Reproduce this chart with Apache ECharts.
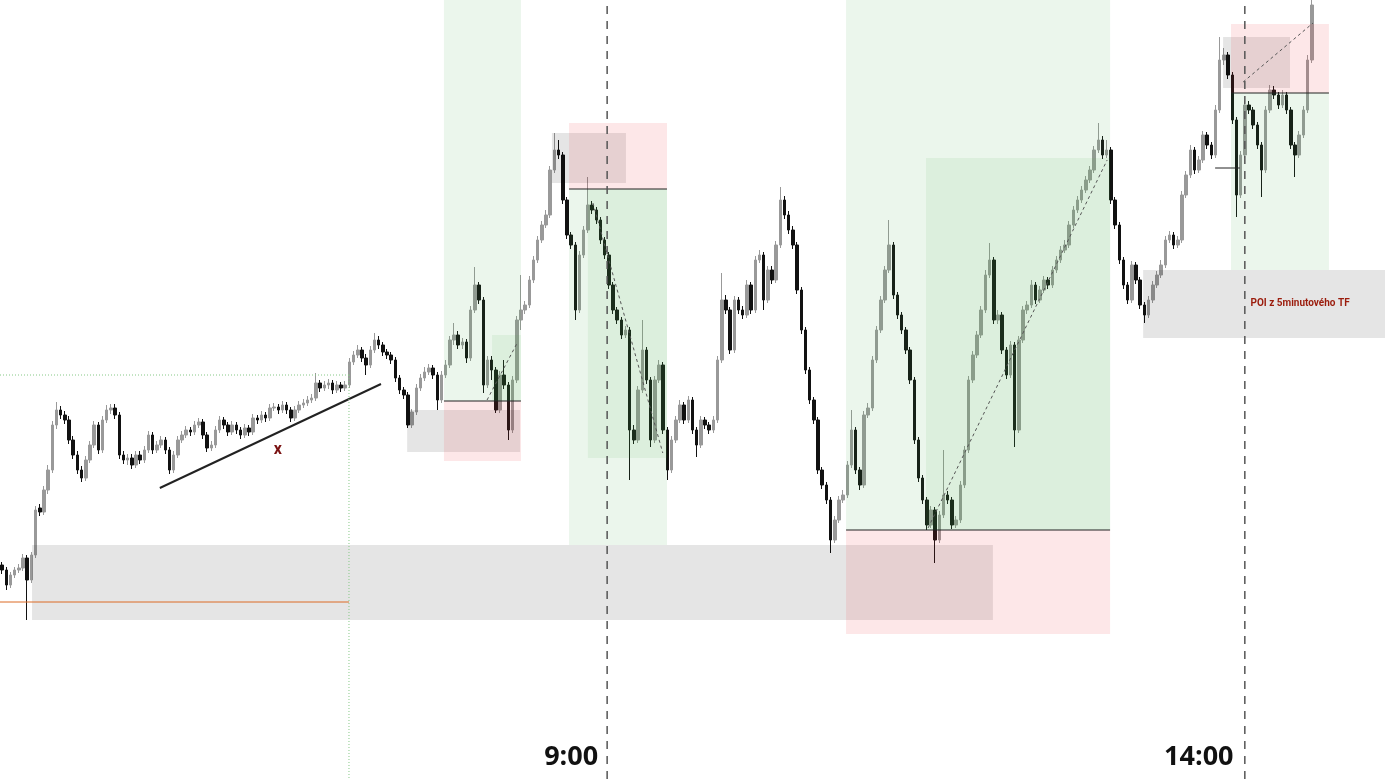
<!DOCTYPE html>
<html>
<head>
<meta charset="utf-8">
<script src="https://cdn.jsdelivr.net/npm/echarts@6/dist/echarts.min.js"></script>
<style>html,body{margin:0;padding:0;background:#fff}#c{width:1385px;height:779px}</style>
</head>
<body>
<div id="c"></div>
<script>
// ---- DATA (prices in chart points) ----
const startMinutes = 4 * 60 + 28;   // first 2-minute candle 04:28
const barMinutes = 2;
const slotCount = 331;
const tickLabels = ['9:00', '14:00'];
// [open, close, low, high]
const candles = [
[235,230,226,238],[230,215,210,233],[215,225,212,228],[225,230,222,233],[230,232,227,236],
[232,242,229,246],[242,220,180,245],[220,245,217,248],[245,290,242,294],[292,288,284,296],
[288,310,285,314],[310,330,306,335],[330,375,327,379],[375,390,371,398],[390,385,381,394],
[385,380,376,389],[380,360,356,384],[360,345,341,364],[345,330,326,349],[330,322,318,334],
[322,340,319,344],[340,355,337,359],[355,375,352,379],[375,350,346,378],[350,380,347,384],
[380,390,377,395],[390,392,386,396],[392,385,381,396],[385,345,341,388],[345,340,336,349],
[340,342,335,346],[342,335,331,346],[335,345,332,349],[345,340,336,349],[340,350,337,354],
[350,365,347,369],[365,350,346,368],[350,355,347,359],[355,360,352,364],[360,350,346,363],
[350,330,326,353],[330,345,327,349],[345,360,342,364],[360,365,357,369],[365,370,362,374],
[370,368,364,373],[368,375,365,379],[375,378,372,382],[378,365,361,381],[365,352,348,368],
[352,355,349,359],[355,370,352,374],[370,380,367,384],[380,375,371,383],[375,368,364,378],
[368,375,365,379],[375,370,366,378],[370,365,361,373],[365,372,362,376],[372,368,364,375],
[368,382,365,386],[382,380,376,385],[380,385,377,389],[385,382,378,388],[382,392,379,396],
[392,393,389,397],[393,390,386,396],[390,395,387,399],[395,390,386,398],[390,382,378,393],
[382,390,379,394],[390,395,387,399],[395,397,392,401],[397,400,394,404],[400,402,397,406],
[402,417,399,427],[417,412,408,420],[412,415,409,419],[415,417,411,421],[417,410,406,420],
[410,415,407,419],[415,412,408,418],[412,415,409,419],[415,438,412,442],[438,445,435,449],
[445,450,442,455],[450,442,438,453],[442,435,425,446],[435,450,432,454],[450,460,447,467],
[460,455,451,464],[455,448,444,458],[448,445,441,451],[445,440,436,448],[440,422,418,443],
[422,410,406,425],[410,405,401,413],[405,375,372,408],[375,388,372,391],[388,412,385,416],
[412,422,409,426],[422,428,419,433],[428,432,425,436],[432,425,421,435],[425,400,390,428],
[400,425,397,429],[425,435,422,440],[435,460,432,464],[460,465,455,477],[465,455,451,469],
[455,458,451,462],[458,442,437,461],[442,490,439,494],[490,515,487,533],[515,500,496,518],
[500,415,407,503],[415,440,412,444],[440,430,420,444],[430,390,387,433],[390,425,387,429],
[425,415,411,440],[415,370,360,418],[370,420,367,424],[420,480,417,484],[480,490,470,525],
[490,495,486,499],[495,520,492,524],[520,540,517,544],[540,560,537,564],[560,575,557,579],
[575,585,572,590],[585,630,582,634],[630,650,627,667],[650,645,641,660],[645,600,596,648],
[600,565,561,603],[565,555,551,568],[555,490,480,558],[490,545,487,549],[545,570,542,574],
[570,595,567,623],[595,590,586,599],[590,580,576,593],[580,560,556,583],[560,545,541,563],
[545,515,511,548],[515,490,486,518],[490,480,476,493],[480,465,461,483],[465,470,462,474],
[470,370,320,473],[370,360,356,375],[360,410,357,414],[410,450,407,480],[450,420,416,453],
[420,360,353,423],[360,420,357,424],[420,435,417,440],[435,370,366,438],[370,330,320,373],
[330,360,327,364],[360,380,357,384],[380,395,377,400],[395,380,376,398],[380,400,377,404],
[400,370,366,403],[370,355,343,373],[355,380,352,384],[380,375,371,383],[375,370,366,378],
[370,380,367,384],[380,440,377,444],[440,500,437,527],[500,490,486,505],[490,450,446,493],
[450,500,447,504],[500,490,486,503],[490,485,481,494],[485,515,482,520],[515,490,486,518],
[490,540,487,544],[540,545,537,550],[545,500,490,548],[500,530,497,534],[530,520,516,534],
[520,555,517,559],[555,600,552,613],[600,585,581,604],[585,570,566,589],[570,555,551,574],
[555,510,506,558],[510,470,466,513],[470,430,426,473],[430,400,396,433],[400,380,376,403],
[380,330,326,383],[330,315,311,333],[315,300,296,318],[300,260,247,303],[260,280,257,284],
[280,300,277,304],[300,305,297,310],[305,335,302,339],[335,370,332,390],[370,330,326,373],
[330,315,310,333],[315,385,312,389],[385,392,382,397],[392,440,389,444],[440,470,437,474],
[470,500,467,504],[500,530,497,534],[530,555,527,580],[555,505,501,558],[505,485,481,508],
[485,470,466,488],[470,450,446,473],[450,420,416,453],[420,360,356,423],[360,322,318,363],
[322,300,296,325],[300,275,270,303],[275,290,272,294],[290,260,237,293],[260,285,257,289],
[285,305,282,350],[305,300,296,309],[300,275,271,303],[275,280,272,284],[280,315,277,319],
[315,350,312,354],[350,420,347,424],[420,445,417,449],[445,465,442,469],[465,490,462,494],
[490,525,487,530],[525,540,522,557],[540,480,476,543],[480,485,476,490],[485,450,446,488],
[450,425,421,453],[425,455,422,459],[455,370,353,458],[370,460,367,464],[460,490,457,494],
[490,495,486,499],[495,515,492,520],[515,500,496,518],[500,510,497,514],[510,520,507,524],
[520,515,511,523],[515,530,512,534],[530,540,527,544],[540,550,537,554],[550,555,547,560],
[555,575,552,579],[575,590,572,594],[590,600,587,604],[600,610,597,614],[610,620,607,624],
[620,630,617,634],[630,650,627,654],[650,660,647,677],[660,645,641,664],[645,650,642,660],
[650,600,596,653],[600,575,571,603],[575,540,536,578],[540,515,511,543],[515,500,496,518],
[500,535,497,539],[535,520,516,538],[520,495,491,523],[495,485,477,498],[485,500,482,504],
[500,515,497,519],[515,525,512,529],[525,535,522,540],[535,560,532,564],[560,565,557,569],
[565,555,551,568],[555,560,552,564],[560,605,557,609],[605,625,602,629],[625,650,622,655],
[650,630,626,653],[630,640,627,644],[640,665,637,669],[665,655,651,668],[655,645,641,658],
[645,690,642,695],[690,740,687,763],[740,745,735,752],[745,725,721,748],[725,680,676,728],
[680,605,583,683],[605,645,602,649],[645,695,642,699],[695,690,686,699],[690,675,671,693],
[675,655,651,678],[655,630,603,658],[630,690,627,694],[690,710,687,715],[710,705,701,714],
[705,695,691,708],[695,705,692,710],[705,690,686,708],[690,655,651,693],[655,645,623,658],
[645,665,642,669],[665,690,662,694],[690,740,687,745],[740,795,737,800]
];
// annotation zones: [fromBar, toBar, upperPrice, lowerPrice]
const grayZones = [
  [7.15, 236.8, 255, 180],
  [96.8, 123.8, 390, 348],
  [131.4, 149.1, 667, 617],
  [291.8, 307.8, 763, 712],
  [272.7, 330.5, 530, 462]
];
const profitZones = [
  [105.6, 124.0, 800, 399],
  [135.5, 158.9, 611, 255],
  [201.7, 264.8, 800, 270],
  [293.7, 317.1, 707, 530]
];
const lossZones = [
  [105.6, 124.0, 399, 339],
  [135.5, 158.9, 677, 611],
  [201.7, 264.8, 270, 166],
  [293.7, 317.1, 776, 707]
];
const filledZones = [
  [117.1, 124.0, 465, 399],
  [140.0, 158.9, 611, 342],
  [220.8, 264.8, 642, 270]
];
// lines: [bar1, price1, bar2, price2]
const entryLines = [
  [105.6, 399, 124.0, 399],
  [135.5, 611, 158.9, 611],
  [201.7, 270, 264.8, 270],
  [293.7, 707, 317.1, 707],
  [289.9, 632, 295.8, 632]
];
const pathLines = [
  [115.9, 400, 123.1, 457],
  [141.2, 597, 157.9, 347],
  [221.3, 272, 264.1, 640],
  [296.6, 718, 313.3, 777]
];
const trendLines = [[37.7, 312, 90.55, 416]];
const levelLines = [[-0.5, 198, 82.9, 198]];
const highLines = [[-0.5, 425, 82.9, 425], [82.9, 425, 82.9, 21]];
const sessionLines = [[144.6, 21, 144.6, 800], [297.0, 21, 297.0, 800]];
const notes = [[65.9, 350, 'x', 16], [310.2, 497, 'POI z 5minutového TF', 10]];

// ---- CHART ----
const categories = [];
for (let i = 0; i < slotCount; i++) {
  const m = startMinutes + i * barMinutes;
  categories.push(Math.floor(m / 60) + ':' + String(m % 60).padStart(2, '0'));
}
const chart = echarts.init(document.getElementById('c'), null, {renderer: 'canvas'});

function rectSeries(data, fill, z) {
  return {
    type: 'custom', xAxisIndex: 1, yAxisIndex: 0, z: z, silent: true,
    data: data, encode: {x: [0, 1], y: [2, 3]},
    renderItem: function (params, api) {
      const p1 = api.coord([api.value(0), api.value(2)]);
      const p2 = api.coord([api.value(1), api.value(3)]);
      return {type: 'rect', shape: {x: p1[0], y: p1[1], width: p2[0] - p1[0], height: p2[1] - p1[1]},
              style: {fill: fill}};
    }
  };
}
function lineSeries(data, stroke, width, dash, z) {
  return {
    type: 'custom', xAxisIndex: 1, yAxisIndex: 0, z: z, silent: true,
    data: data, encode: {x: [0, 2], y: [1, 3]},
    renderItem: function (params, api) {
      const p1 = api.coord([api.value(0), api.value(1)]);
      const p2 = api.coord([api.value(2), api.value(3)]);
      return {type: 'line', shape: {x1: p1[0], y1: p1[1], x2: p2[0], y2: p2[1]},
              style: {stroke: stroke, lineWidth: width, lineDash: dash || null}};
    }
  };
}
const noteColors = ['#7a1212', '#9b1c0c'];
const noteSeries = {
  type: 'custom', xAxisIndex: 1, yAxisIndex: 0, z: 20, silent: true,
  data: notes.map(n => [n[0], n[1]]),
  encode: {x: 0, y: 1},
  renderItem: function (params, api) {
    const n = notes[params.dataIndex];
    const p = api.coord([api.value(0), api.value(1)]);
    return {type: 'text', x: p[0], y: p[1],
      style: {text: n[2], fontSize: n[3], fontWeight: 'bold', fontFamily: 'Roboto, sans-serif',
              fill: noteColors[params.dataIndex], align: 'center', verticalAlign: 'middle'}};
  }
};

chart.setOption({
  animation: false,
  backgroundColor: '#ffffff',
  grid: {left: 0, right: 0, top: 0, bottom: 0},
  xAxis: [{
    type: 'category', data: categories, boundaryGap: true,
    axisLine: {show: false}, axisTick: {show: false}, splitLine: {show: false},
    axisLabel: {
      inside: true, margin: 8,
      interval: function (idx, val) { return tickLabels.indexOf(val) >= 0; },
      fontSize: 27, fontWeight: 'bold', color: '#111', fontFamily: 'Open Sans, sans-serif'
    }
  }, {
    type: 'value', min: -0.5, max: slotCount - 0.5, show: false
  }],
  yAxis: [{type: 'value', min: 21, max: 800, show: false, scale: true}],
  series: [
    {
      type: 'candlestick', xAxisIndex: 0, yAxisIndex: 0, z: 2,
      data: candles, barWidth: 3,
      itemStyle: {color: '#999999', borderColor: '#999999', color0: '#111111', borderColor0: '#111111', borderWidth: 1}
    },
    rectSeries(grayZones, 'rgba(0,0,0,0.1)', 5),
    rectSeries(profitZones, 'rgba(76,175,80,0.11)', 5),
    rectSeries(lossZones, 'rgba(242,54,69,0.12)', 5),
    rectSeries(filledZones, 'rgba(76,175,80,0.09)', 5),
    lineSeries(entryLines, '#222222', 1, null, 8),
    lineSeries(pathLines, '#555555', 1, [3, 3], 8),
    lineSeries(trendLines, '#222222', 2, null, 8),
    lineSeries(levelLines, '#dc6a24', 1, null, 8),
    lineSeries(highLines, '#86c886', 1, [1, 2], 8),
    lineSeries(sessionLines, '#555555', 1.5, [8, 7], 9),
    noteSeries
  ]
});
</script>
</body>
</html>
